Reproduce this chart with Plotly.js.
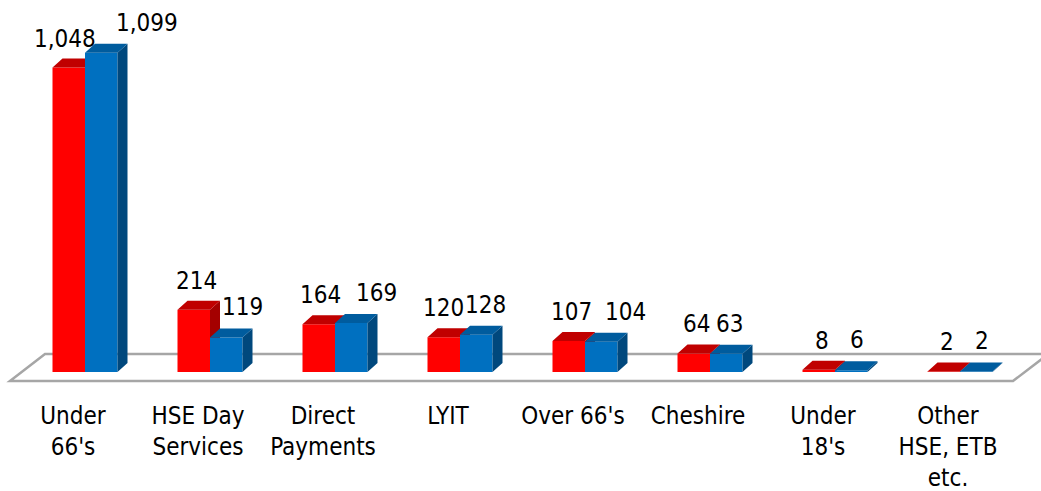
<!DOCTYPE html>
<html>
<head>
<meta charset="utf-8">
<script src="https://cdn.plot.ly/plotly-3.0.1.min.js"></script>
<style>
  html, body { margin: 0; padding: 0; background: #ffffff; }
  #chart { width: 1041px; height: 491px; }
</style>
</head>
<body>
<div id="chart"></div>
<script>
// ---------- data ----------
const categories = ["Under 66's", "HSE Day Services", "Direct Payments", "LYIT", "Over 66's", "Cheshire", "Under 18's", "Other HSE, ETB etc."];
const tickLabels = ["Under<br>66's", "HSE Day<br>Services", "Direct<br>Payments", "LYIT", "Over 66's", "Cheshire", "Under<br>18's", "Other<br>HSE, ETB<br>etc."];
const redValues  = [1048, 214, 164, 120, 107, 64, 8, 2];
const blueValues = [1099, 119, 169, 128, 104, 63, 6, 2];

// ---------- styling ----------
const redLabelShift  = [-4, 3, 2, 0, 3, 3, 3, 3];      // px, label placement like the original
const blueLabelShift = [46, 16, 25, 9, 24, 3, 6, 6];   // px
const redColors  = {front: '#ff0000', top: '#c00000', side: '#a40000'};
const blueColors = {front: '#0070c0', top: '#005c9e', side: '#00487d'};

// pick a narrow font if available
function fontAvailable(name) {
  const c = document.createElement('canvas').getContext('2d');
  const s = 'abcdefghijklmnopqrstuvwxyz0123456789';
  c.font = '40px monospace'; const w1 = c.measureText(s).width;
  c.font = "40px '" + name + "', monospace"; const w2 = c.measureText(s).width;
  c.font = '40px serif'; const w3 = c.measureText(s).width;
  c.font = "40px '" + name + "', serif"; const w4 = c.measureText(s).width;
  return w1 !== w2 || w3 !== w4;
}
let fontFamily = 'Lato, sans-serif', fontSize = 22;
const narrow = ['Liberation Sans Narrow', 'DejaVu Sans Condensed', 'Roboto Condensed', 'Open Sans Condensed'];
for (const f of narrow) { if (fontAvailable(f)) { fontFamily = "'" + f + "', sans-serif"; fontSize = 24; break; } }

// ---------- geometry ----------
const W = 1041, H = 491, marginB = 92;
const plotH = H - marginB;
const zeroPx = 372, pxPerUnit = 0.2905;
const yMax = zeroPx / pxPerUnit;
const yMin = -(plotH - zeroPx) / pxPerUnit;
const xMin = -0.68, xMax = xMin + W / 125;
const barW = 0.26;
const depthX = 10 / 125;                // 3D depth, x units
const depthY = 9 / pxPerUnit;           // 3D depth, y units
const idx = categories.map((_, i) => i);

const traces = [];
function addSeries(values, offset, colors, z, name) {
  const xs = idx.map(i => i + offset);
  traces.push({
    type: 'bar', name: name, x: xs, y: values, width: barW,
    marker: {color: colors.front, line: {width: 0}},
    zorder: z, hoverinfo: 'skip', showlegend: false
  });
  const topX = [], topY = [], sideX = [], sideY = [];
  values.forEach((v, i) => {
    const xl = xs[i] - barW / 2, xr = xs[i] + barW / 2;
    topX.push(xl, xl + depthX, xr + depthX, xr, xl, null);
    topY.push(v, v + depthY, v + depthY, v, v, null);
    sideX.push(xr, xr, xr + depthX, xr + depthX, xr, null);
    sideY.push(0, v, v + depthY, depthY, 0, null);
  });
  traces.push({type: 'scatter', mode: 'lines', x: sideX, y: sideY, fill: 'toself', fillcolor: colors.side,
    line: {width: 0, color: colors.side}, zorder: z + 1, hoverinfo: 'skip', showlegend: false});
  traces.push({type: 'scatter', mode: 'lines', x: topX, y: topY, fill: 'toself', fillcolor: colors.top,
    line: {width: 0, color: colors.top}, zorder: z + 1, hoverinfo: 'skip', showlegend: false});
}
addSeries(redValues, -barW / 2, redColors, 0, 'Series 1');
addSeries(blueValues, barW / 2, blueColors, 2, 'Series 2');

const fmt = v => v.toLocaleString('en-US');
const annotations = [];
redValues.forEach((v, i) => annotations.push({
  x: i - barW / 2, y: v, text: fmt(v), showarrow: false, xanchor: 'center', yanchor: 'middle',
  xshift: redLabelShift[i], yshift: 29, font: {family: fontFamily, size: fontSize, color: '#000'}
}));
blueValues.forEach((v, i) => annotations.push({
  x: i + barW / 2, y: v, text: fmt(v), showarrow: false, xanchor: 'center', yanchor: 'middle',
  xshift: blueLabelShift[i], yshift: 30, font: {family: fontFamily, size: fontSize, color: '#000'}
}));

// floor plane (pixel-like positions converted to axis units)
const px2x = p => xMin + p / 125;
const px2y = p => (zeroPx - p) / pxPerUnit;
const floorPath = 'M ' + px2x(10) + ',' + px2y(381) + ' L ' + px2x(45) + ',' + px2y(354) +
  ' L ' + px2x(1060) + ',' + px2y(354) + ' L ' + px2x(1013 + 47) + ',' + px2y(381 - 36) +
  ' L ' + px2x(1013) + ',' + px2y(381) + ' Z';

const layout = {
  width: W, height: H,
  margin: {l: 0, r: 0, t: 0, b: marginB, pad: 0},
  paper_bgcolor: '#ffffff', plot_bgcolor: '#ffffff',
  barmode: 'overlay', showlegend: false,
  xaxis: {
    range: [xMin, xMax], showgrid: false, zeroline: false, showline: false,
    tickmode: 'array', tickvals: idx.map(i => i - 0.096), ticktext: tickLabels,
    ticks: '', tickfont: {family: fontFamily, size: fontSize, color: '#000'}, fixedrange: true
  },
  yaxis: {range: [yMin, yMax], visible: false, fixedrange: true},
  shapes: [{type: 'path', xref: 'x', yref: 'y', path: floorPath, layer: 'below',
    line: {color: '#a6a6a6', width: 2.5}, fillcolor: 'rgba(0,0,0,0)'}],
  annotations: annotations
};

Plotly.newPlot('chart', traces, layout, {displayModeBar: false, staticPlot: true});
</script>
</body>
</html>
